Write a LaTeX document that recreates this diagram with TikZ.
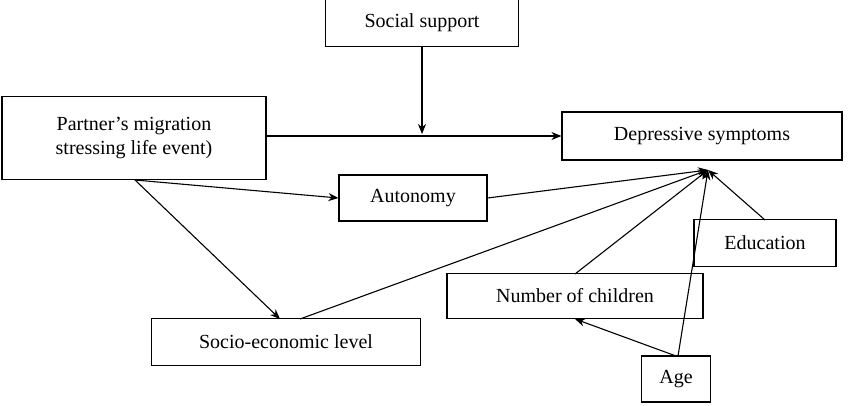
\documentclass[tikz,border=0pt]{standalone}
\usepackage{fontspec}
\setmainfont{Liberation Serif}
\usetikzlibrary{positioning, arrows.meta}

\begin{document}
\begin{tikzpicture}[x=1pt, y=-1pt,
    % Styles
    box/.style={draw, line width=1.1pt, inner sep=0pt, align=center, font=\fontsize{20}{24}\selectfont},
    arrow/.style={-{Stealth[length=10pt, width=8pt]}, line width=1.1pt},
]
\useasboundingbox (0,0) rectangle (850,406);

% Boxes
\node[box, minimum width=193pt, minimum height=47pt] (support) at (422,23) {Social support};
\node[box, minimum width=264pt, minimum height=83pt] (partner) at (134,138) {Partner's migration\\stressing life event)};
\node[box, minimum width=280pt, minimum height=48pt] (depr) at (702,136) {Depressive symptoms};
\node[box, minimum width=148pt, minimum height=46pt] (autonomy) at (413,198) {Autonomy};
\node[box, minimum width=142pt, minimum height=47pt] (edu) at (765,243) {Education};
\node[box, minimum width=256pt, minimum height=45pt] (children) at (575,296) {Number of children};
\node[box, minimum width=269pt, minimum height=47pt] (socio) at (286,342) {Socio-economic level};
\node[box, minimum width=69pt, minimum height=46pt] (age) at (676,379) {Age};

% Connectors
\coordinate (hub) at (708,170);
\coordinate (moderate) at (422,134);
\draw[arrow] (partner.east |- depr.west) -- (depr.west);
\draw[arrow] (support.south) -- (moderate);
\draw[arrow] (135,180) -- (autonomy.west);
\draw[arrow] (135,180) -- (280,319);
\draw[arrow] (autonomy.east) -- (hub);
\draw[arrow] (300,319) -- (hub);
\draw[arrow] (575,274) -- (hub);
\draw[arrow] (765,220) -- (hub);
\draw[arrow] (678,356) -- (hub);
\draw[arrow] (676,356) -- (575,319);

\end{tikzpicture}
\end{document}
